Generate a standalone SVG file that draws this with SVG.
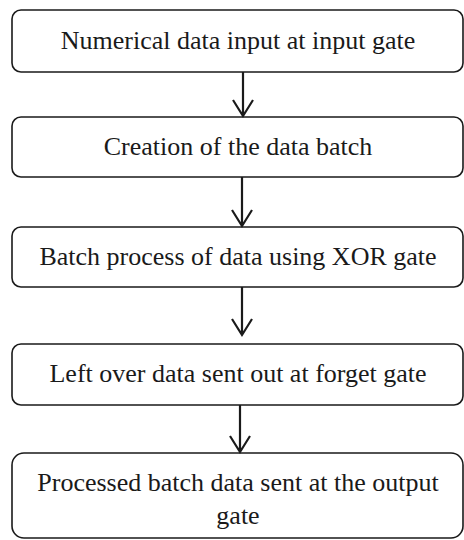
<svg xmlns="http://www.w3.org/2000/svg" width="464" height="540" viewBox="0 0 464 540">
<style>
.box{fill:#fff;stroke:#1a1a1a;stroke-width:1.6}
.t{font-size:26px;fill:#1a1a1a;text-anchor:middle}
.c{stroke:#1a1a1a;stroke-width:2.2;fill:none}
</style>
<rect width="464" height="540" fill="#fff"/>
<g font-family="Liberation Serif, Times New Roman, serif">
<g id="n1"><rect class="box" x="12" y="10" width="451" height="62" rx="9"/><text class="t" x="238" y="49">Numerical data input at input gate</text></g>
<g id="n2"><rect class="box" x="12" y="117" width="451" height="60" rx="9"/><text class="t" x="238" y="155">Creation of the data batch</text></g>
<g id="n3"><rect class="box" x="12" y="227" width="451" height="60" rx="9"/><text class="t" x="238" y="265">Batch process of data using XOR gate</text></g>
<g id="n4"><rect class="box" x="12" y="344" width="451" height="61" rx="9"/><text class="t" x="238" y="382">Left over data sent out at forget gate</text></g>
<g id="n5"><rect class="box" x="12" y="453" width="451" height="85" rx="12"/><text class="t" x="238" y="491">Processed batch data sent at the output</text><text class="t" x="238" y="524">gate</text></g>
</g>
<g id="connectors">
<path class="c" d="M243 72V116M233 100L243 116L253 100"/>
<path class="c" d="M242 177V226M232 210L242 226L252 210"/>
<path class="c" d="M242 287V335M232 319L242 335L252 319"/>
<path class="c" d="M240 405V452M230 436L240 452L250 436"/>
</g>
</svg>
